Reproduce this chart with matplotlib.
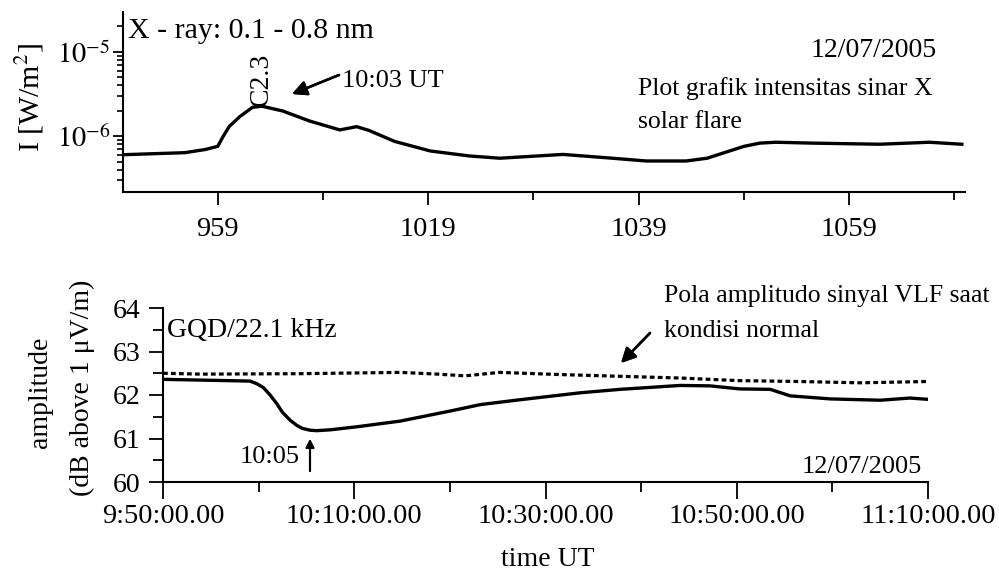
import numpy as np
import matplotlib.pyplot as plt
from matplotlib.ticker import FixedLocator, FixedFormatter, LogLocator, NullFormatter, MultipleLocator

plt.rcParams['font.family'] = ['Liberation Serif', 'DejaVu Serif']
plt.rcParams['mathtext.fontset'] = 'stix'
plt.rcParams['font.size'] = 20

# --- data: time in minutes after 9:50 UT, 12/07/2005 ---

# X-ray flux 0.1 - 0.8 nm [W/m^2]
xray_time = [0, 5.9, 7.8, 9.0, 9.5, 10.1, 11.1, 12.3, 13.2, 15.2, 17.7, 20.6, 22.2, 23.4,
             25.8, 29.2, 32.9, 35.8, 41.8, 46.5, 49.7, 53.5, 55.5, 57.3, 59.0, 60.5, 62.0,
             65.5, 71.9, 76.6, 79.7]
xray_flux = [6.05e-7, 6.4e-7, 6.97e-7, 7.6e-7, 9.9e-7, 1.31e-6, 1.71e-6, 2.2e-6, 2.27e-6,
             1.99e-6, 1.52e-6, 1.19e-6, 1.30e-6, 1.17e-6, 8.7e-7, 6.7e-7, 5.85e-7, 5.5e-7,
             6.1e-7, 5.5e-7, 5.1e-7, 5.1e-7, 5.5e-7, 6.5e-7, 7.6e-7, 8.3e-7, 8.5e-7,
             8.3e-7, 8.05e-7, 8.5e-7, 8.05e-7]

# VLF amplitude GQD/22.1 kHz [dB above 1 uV/m]
vlf_time = [0, 9.1, 9.8, 10.5, 11.2, 11.9, 12.5, 13.3, 14.0, 14.6, 15.4, 16.1, 17.5, 20.3,
            24.8, 30.0, 33.2, 37.3, 43.6, 47.8, 54.1, 57.2, 60.3, 63.5, 65.6, 69.8, 75.0,
            78.1, 80.0]
vlf_amp = [62.36, 62.32, 62.26, 62.17, 62.00, 61.80, 61.60, 61.42, 61.30, 61.23, 61.19,
           61.18, 61.20, 61.27, 61.40, 61.63, 61.78, 61.89, 62.05, 62.13, 62.22, 62.21,
           62.14, 62.13, 61.98, 61.91, 61.88, 61.93, 61.90]

# quiet-day amplitude pattern (dashed)
quiet_time = [0, 3.9, 14.3, 24.8, 28.7, 31.6, 35.2, 41.5, 47.8, 54.1, 60.3, 66.6, 72.9, 79.9]
quiet_amp = [62.50, 62.48, 62.49, 62.52, 62.48, 62.44, 62.52, 62.47, 62.43, 62.39,
             62.33, 62.31, 62.28, 62.31]

xray_ticks = [9, 29, 49, 69]
xray_ticklabels = ['959', '1019', '1039', '1059']
xray_minor = [19, 39, 59, 79]

vlf_ticks = [0, 20, 40, 60, 80]
vlf_ticklabels = ['9:50:00.00', '10:10:00.00', '10:30:00.00', '10:50:00.00', '11:10:00.00']

W, H = 999, 584


def px(x, y):
    # pixel position -> figure fraction
    return x / W, 1 - y / H


def clean_axes(ax):
    for s in ['top', 'right']:
        ax.spines[s].set_visible(False)
    for s in ['left', 'bottom']:
        ax.spines[s].set_linewidth(1.5)


def arrow(tail, head, scale, lw):
    fig.add_artist(plt.annotate('', xy=px(*head), xytext=px(*tail),
                                xycoords='figure fraction', textcoords='figure fraction',
                                arrowprops=dict(arrowstyle='-|>', color='black', lw=lw,
                                                mutation_scale=scale, shrinkA=0, shrinkB=0)))


fig = plt.figure(figsize=(W / 100, H / 100), dpi=100)

# ---------------- top panel: X-ray flux ----------------
ax1 = fig.add_axes([123 / W, 1 - 192 / H, 842 / W, 180 / H])
ax1.plot(xray_time, xray_flux, color='black', lw=2.4, solid_joinstyle='round')
ax1.set_yscale('log')
ax1.set_ylim(2.19e-7, 2.96e-5)
ax1.set_xlim(0, 80)
clean_axes(ax1)
ax1.yaxis.set_major_locator(FixedLocator([1e-6, 1e-5]))
ax1.yaxis.set_major_formatter(FixedFormatter([r'$10^{-6}$', r'$10^{-5}$']))
ax1.yaxis.set_minor_locator(LogLocator(base=10, subs=np.arange(2, 10)))
ax1.yaxis.set_minor_formatter(NullFormatter())
ax1.xaxis.set_major_locator(FixedLocator(xray_ticks))
ax1.xaxis.set_major_formatter(FixedFormatter(xray_ticklabels))
ax1.xaxis.set_minor_locator(FixedLocator(xray_minor))
ax1.tick_params(axis='y', which='major', direction='out', length=7, width=1.3, pad=2,
                labelsize=20.5)
ax1.tick_params(axis='y', which='minor', direction='out', length=4.5, width=1.2)
ax1.tick_params(axis='x', which='major', direction='out', length=9, width=1.3, pad=9,
                labelsize=20.5)
ax1.tick_params(axis='x', which='minor', direction='out', length=6, width=1.3)

fig.text(*px(30, 97), r'I [W/m$^2$]', rotation=90, ha='center', va='center', fontsize=21.5)
fig.text(*px(128, 38), 'X - ray: 0.1 - 0.8 nm', ha='left', va='baseline', fontsize=21.5)
fig.text(*px(937, 57), '12/07/2005', ha='right', va='baseline')
fig.text(*px(638, 95), 'Plot grafik intensitas sinar X', ha='left', va='baseline', fontsize=18.5)
fig.text(*px(638, 128), 'solar flare', ha='left', va='baseline', fontsize=18.5)
fig.text(*px(261, 106), 'C2.3', rotation=90, ha='center', va='bottom')
fig.text(*px(342, 87), '10:03 UT', ha='left', va='baseline', fontsize=19)
arrow((339, 75), (292, 94), 22, 1.8)

# ---------------- bottom panel: VLF amplitude ----------------
ax2 = fig.add_axes([163 / W, 1 - 482 / H, 765 / W, 174 / H])
ax2.plot(quiet_time, quiet_amp, color='black', lw=2.3, linestyle=(0, (1.5, 1.0)))
ax2.plot(vlf_time, vlf_amp, color='black', lw=2.4, solid_joinstyle='round')
ax2.set_xlim(0, 80)
ax2.set_ylim(60, 64)
clean_axes(ax2)
ax2.yaxis.set_major_locator(MultipleLocator(1))
ax2.yaxis.set_minor_locator(MultipleLocator(0.5))
ax2.xaxis.set_major_locator(FixedLocator(vlf_ticks))
ax2.xaxis.set_major_formatter(FixedFormatter(vlf_ticklabels))
ax2.xaxis.set_minor_locator(MultipleLocator(10))
ax2.tick_params(axis='y', which='major', direction='out', length=10, width=1.3, pad=6)
ax2.tick_params(axis='y', which='minor', direction='out', length=7, width=1.3)
ax2.tick_params(axis='x', which='major', direction='out', length=12, width=1.3, pad=4,
                labelsize=20.5)
ax2.tick_params(axis='x', which='minor', direction='out', length=7, width=1.3)

fig.text(*px(41, 392), 'amplitude', rotation=90, ha='center', va='center')
fig.text(*px(82, 388), '(dB above 1 \u03bcV/m)', rotation=90, ha='center', va='center')
fig.text(*px(548, 560), 'time UT', ha='center', va='center')
fig.text(*px(167, 337), 'GQD/22.1 kHz', ha='left', va='baseline')
fig.text(*px(300, 463), '10:05', ha='right', va='baseline', fontsize=19)
fig.text(*px(922, 473), '12/07/2005', ha='right', va='baseline', fontsize=19)
fig.text(*px(664, 302), 'Pola amplitudo sinyal VLF saat', ha='left', va='baseline', fontsize=18.5)
fig.text(*px(664, 337), 'kondisi normal', ha='left', va='baseline', fontsize=18.5)
arrow((310, 471), (310, 439), 12, 1.5)
arrow((650, 333), (621, 363), 22, 1.8)

fig.savefig('out.png', dpi=100)
